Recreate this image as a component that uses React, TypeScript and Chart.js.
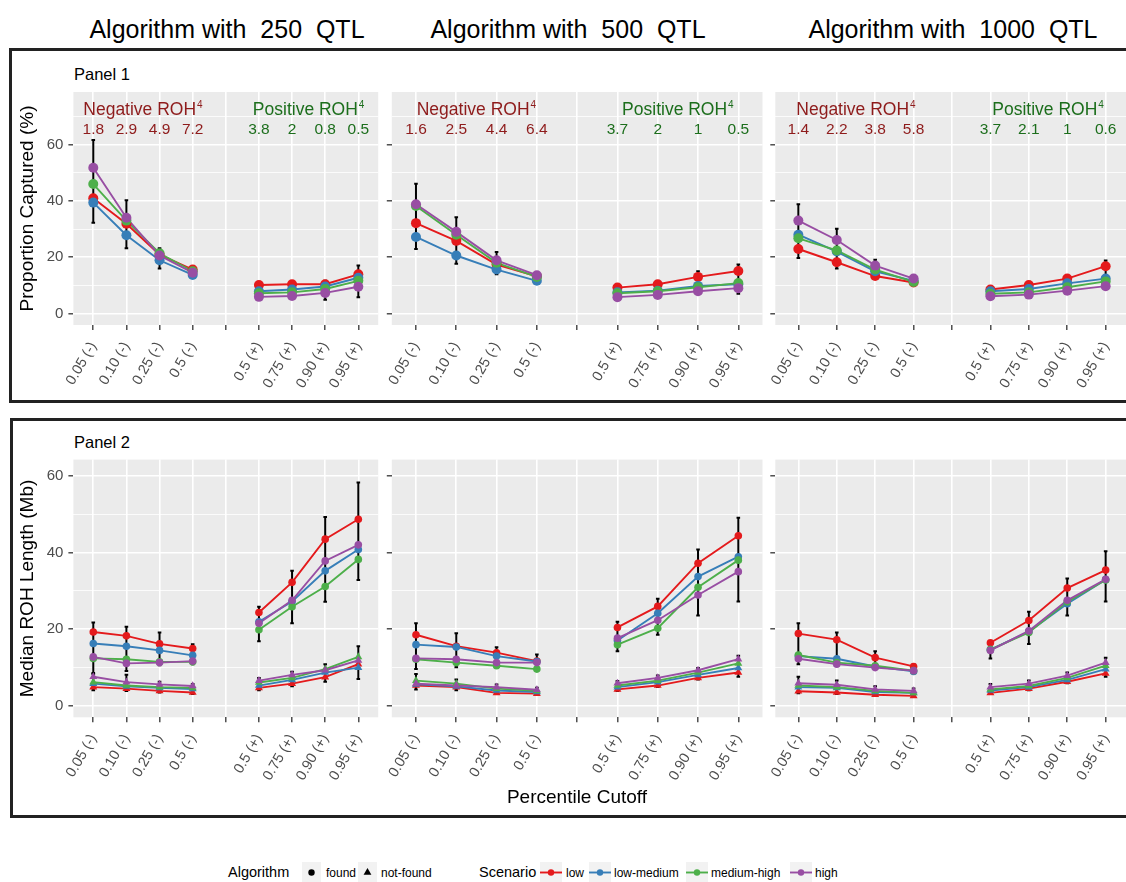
import React, { useEffect, useRef } from "react";
import { Chart, registerables } from "chart.js";
Chart.register(...registerables);

const FONT = "'Liberation Sans', Arial, Helvetica, sans-serif";

// ---------------- categories ----------------
const cutoffTickLabels = ["0.05 (-)", "0.10 (-)", "0.25 (-)", "0.5 (-)", "", "0.5 (+)", "0.75 (+)", "0.90 (+)", "0.95 (+)"];
const cutoffCategories = ["0.05 (-)", "0.10 (-)", "0.25 (-)", "0.5 (-)", "0.5 (+)", "0.75 (+)", "0.90 (+)", "0.95 (+)"];
const scenarios = ["low", "low-medium", "medium-high", "high"];
const scenarioColors = ["#E41A1C", "#377EB8", "#4DAF4A", "#984EA3"];
const algorithms = ["found", "not-found"];
const qtlCounts = ["250", "500", "1000"];
const yGridValues = [0, 10, 20, 30, 40, 50, 60, 70];

// ---------------- Panel 1: Proportion captured (%) ----------------
// rows: low, low-medium, medium-high, high
const capturedQ250 = [
  [40.9, 31.9, 20.9, 15.6, 10.1, 10.4, 10.4, 13.9],
  [39.4, 27.8, 18.9, 13.7, 7.9, 8.5, 9.6, 12.7],
  [46.0, 33.0, 21.4, 15.0, 7.2, 7.5, 8.7, 11.6],
  [51.8, 34.0, 20.6, 14.5, 5.9, 6.2, 7.3, 9.5],
];
const capturedQ500 = [
  [32.1, 25.8, 17.4, 13.2, 9.2, 10.4, 13.0, 15.1],
  [27.2, 20.6, 15.6, 11.6, 7.5, 8.1, 9.8, 10.4],
  [38.2, 28.0, 18.0, 13.0, 7.2, 7.9, 9.3, 10.8],
  [38.8, 29.0, 18.9, 13.6, 5.8, 6.6, 7.9, 9.0],
];
const capturedQ1000 = [
  [22.9, 18.2, 13.3, 11.0, 8.5, 10.1, 12.4, 16.8],
  [28.0, 22.0, 15.0, 11.6, 7.9, 8.7, 10.7, 12.4],
  [26.7, 22.4, 15.6, 11.2, 7.0, 7.5, 9.3, 11.4],
  [33.0, 26.1, 17.0, 12.4, 6.1, 6.7, 8.1, 9.7],
];
const capturedErrLoQ250 = [32.2, 23.2, 16.0, 13.0, 5.0, 5.4, 4.9, 5.8];
const capturedErrHiQ250 = [61.6, 40.2, 23.2, 16.5, 10.8, 11.2, 11.6, 17.0];
const capturedErrLoQ500 = [22.9, 17.7, 13.9, 11.0, 5.2, 6.0, 7.3, 7.0];
const capturedErrHiQ500 = [46.1, 34.2, 21.8, 14.3, 9.8, 11.0, 15.0, 17.4];
const capturedErrLoQ1000 = [19.7, 16.0, 12.5, 10.5, 5.6, 6.2, 7.6, 9.0];
const capturedErrHiQ1000 = [38.8, 30.1, 19.1, 13.0, 9.0, 10.6, 13.0, 18.8];

// ROH annotation values
const rohNegQ250 = [1.8, 2.9, 4.9, 7.2];
const rohPosQ250 = [3.8, 2, 0.8, 0.5];
const rohNegQ500 = [1.6, 2.5, 4.4, 6.4];
const rohPosQ500 = [3.7, 2, 1, 0.5];
const rohNegQ1000 = [1.4, 2.2, 3.8, 5.8];
const rohPosQ1000 = [3.7, 2.1, 1, 0.6];

// ---------------- Panel 2: Median ROH length (Mb) ----------------
const lengthFoundQ250 = [
  [19.2, 18.2, 16.1, 14.9, 24.3, 32.2, 43.5, 48.7],
  [16.2, 15.5, 14.4, 13.1, 21.9, 27.2, 35.2, 40.8],
  [12.3, 12.1, 11.4, 11.4, 19.8, 25.8, 31.1, 38.2],
  [12.7, 11.0, 11.2, 11.6, 21.5, 27.5, 37.8, 42.0],
];
const lengthNotFoundQ250 = [
  [4.8, 4.4, 3.8, 3.4, 4.6, 5.7, 7.4, 10.8],
  [5.7, 5.0, 4.6, 4.3, 5.2, 6.7, 8.6, 9.9],
  [6.1, 5.2, 4.8, 4.6, 6.0, 7.2, 9.5, 12.7],
  [7.5, 6.1, 5.5, 5.1, 6.5, 8.0, 9.2, 11.8],
];
const lengthFoundQ500 = [
  [18.5, 15.5, 13.8, 11.6, 20.4, 25.9, 37.2, 44.4],
  [15.9, 15.3, 12.9, 11.5, 17.0, 24.1, 33.7, 38.9],
  [12.1, 11.2, 10.4, 9.5, 15.9, 20.2, 30.9, 38.0],
  [12.3, 12.1, 11.2, 11.2, 17.6, 22.3, 28.9, 35.0],
];
const lengthNotFoundQ500 = [
  [5.2, 4.8, 3.3, 3.1, 4.2, 5.2, 7.2, 8.6],
  [5.5, 5.0, 3.9, 3.5, 4.8, 6.1, 8.0, 9.8],
  [6.5, 5.7, 4.4, 3.8, 5.2, 6.5, 8.6, 11.0],
  [5.7, 5.2, 4.8, 4.1, 5.8, 7.2, 9.2, 12.1],
];
const lengthFoundQ1000 = [
  [18.8, 17.2, 12.5, 10.2, 16.4, 22.2, 30.7, 35.4],
  [12.9, 12.2, 10.2, 8.9, 14.6, 19.3, 26.6, 32.9],
  [13.2, 11.2, 10.4, 9.1, 14.6, 19.1, 27.1, 32.8],
  [12.2, 10.8, 9.9, 9.1, 14.4, 19.5, 27.5, 33.0],
];
const lengthNotFoundQ1000 = [
  [3.7, 3.4, 2.8, 2.5, 3.3, 4.4, 6.2, 8.4],
  [4.8, 4.6, 3.5, 3.3, 3.9, 4.8, 6.7, 9.5],
  [5.2, 4.8, 3.8, 3.3, 4.2, 5.1, 7.2, 10.4],
  [5.8, 5.4, 4.2, 3.8, 4.8, 5.7, 7.8, 11.2],
];
const lengthFoundErrLoQ250 = [8.2, 9.0, 10.5, 10.8, 16.8, 21.5, 27.1, 32.8];
const lengthFoundErrHiQ250 = [21.7, 20.6, 19.1, 16.0, 25.8, 35.2, 49.3, 58.3];
const lengthNotFoundErrLoQ250 = [4.0, 3.8, 3.4, 3.0, 4.0, 5.0, 6.2, 6.9];
const lengthNotFoundErrHiQ250 = [8.5, 8.0, 6.2, 5.6, 7.2, 8.8, 10.8, 15.5];
const lengthFoundErrLoQ500 = [9.5, 10.0, 9.8, 9.0, 14.2, 18.5, 23.5, 27.2];
const lengthFoundErrHiQ500 = [21.5, 18.9, 15.2, 13.3, 21.9, 27.9, 40.8, 49.1];
const lengthNotFoundErrLoQ500 = [4.2, 4.0, 3.0, 2.8, 3.8, 4.8, 6.8, 7.5];
const lengthNotFoundErrHiQ500 = [8.2, 6.8, 5.5, 4.6, 6.4, 7.8, 9.8, 13.0];
const lengthFoundErrLoQ1000 = [10.8, 11.0, 9.5, 8.5, 12.3, 16.1, 23.5, 27.2];
const lengthFoundErrHiQ1000 = [21.5, 19.1, 14.2, 10.8, 16.5, 24.5, 33.2, 40.3];
const lengthNotFoundErrLoQ1000 = [3.2, 3.0, 2.5, 2.2, 3.0, 4.0, 5.8, 7.5];
const lengthNotFoundErrHiQ1000 = [7.5, 6.5, 5.0, 4.4, 5.6, 6.5, 8.6, 12.5];

// ---------------- layout geometry (page pixels) ----------------
const ROWS = [
  { top: 87.3, bottom: 325, yMin: -4.1, yMax: 78.7 },
  { top: 455, bottom: 717.3, yMin: -3.1, yMax: 64.3 },
];
const COLS = [
  { left: 73.4, right: 378.2 },
  { left: 391.8, right: 762.5 },
  { left: 775.3, right: 1128.7 },
];
const TITLE_CENTERS = [227, 568, 953];
const NEG_COLOR = "#8E1B1B";
const POS_COLOR = "#1C6E1C";
const ROH_LABEL_Y = 70.7;
const ROH_VALUE_Y = 63.7;

const slotOf = (i: number) => cutoffTickLabels.indexOf(cutoffCategories[i]) + 1;
const NEG_COUNT = 4; // first four categories are the (-) group

type SeriesGroup = { values: number[][]; shape: "circle" | "triangle"; radius: number };
type ErrRange = { lo: number[]; hi: number[] };
type FacetSpec = {
  row: number;
  col: number;
  groups: SeriesGroup[];
  errors: ErrRange[];
  roh?: { neg: number[]; pos: number[] };
  yTitle?: string;
};

function makeDecorPlugin(spec: FacetSpec) {
  return {
    id: "facetDecor",
    beforeDraw(chart: any) {
      const { ctx, chartArea: a } = chart;
      ctx.save();
      ctx.fillStyle = "#EBEBEB";
      ctx.fillRect(a.left, a.top, a.right - a.left, a.bottom - a.top);
      ctx.restore();
    },
    beforeDatasetsDraw(chart: any) {
      const { ctx } = chart;
      const xs = chart.scales.x;
      const ys = chart.scales.y;
      ctx.save();
      ctx.strokeStyle = "#000000";
      ctx.lineWidth = 2;
      const cap = 1.8;
      spec.errors.forEach((e) => {
        e.lo.forEach((lo, i) => {
          const px = xs.getPixelForValue(slotOf(i));
          const y1 = ys.getPixelForValue(lo);
          const y2 = ys.getPixelForValue(e.hi[i]);
          ctx.beginPath();
          ctx.moveTo(px, y1);
          ctx.lineTo(px, y2);
          ctx.moveTo(px - cap, y1);
          ctx.lineTo(px + cap, y1);
          ctx.moveTo(px - cap, y2);
          ctx.lineTo(px + cap, y2);
          ctx.stroke();
        });
      });
      ctx.restore();
    },
    afterDatasetsDraw(chart: any) {
      if (!spec.roh) return;
      const { ctx } = chart;
      const xs = chart.scales.x;
      const ys = chart.scales.y;
      const groups = [
        { title: "Negative ROH", color: NEG_COLOR, values: spec.roh.neg, first: 0 },
        { title: "Positive ROH", color: POS_COLOR, values: spec.roh.pos, first: 4 },
      ];
      ctx.save();
      groups.forEach((g) => {
        const xa = xs.getPixelForValue(slotOf(g.first));
        const xb = xs.getPixelForValue(slotOf(g.first + 3));
        const cx = (xa + xb) / 2;
        const by = ys.getPixelForValue(ROH_LABEL_Y);
        ctx.fillStyle = g.color;
        ctx.textBaseline = "alphabetic";
        ctx.textAlign = "left";
        ctx.font = `17.5px ${FONT}`;
        const w1 = ctx.measureText(g.title).width;
        ctx.font = `10px ${FONT}`;
        const w2 = ctx.measureText("4").width;
        const start = cx - (w1 + w2 + 1) / 2;
        ctx.font = `17.5px ${FONT}`;
        ctx.fillText(g.title, start, by);
        ctx.font = `10px ${FONT}`;
        ctx.fillText("4", start + w1 + 1, by - 6.5);
        ctx.font = `15.5px ${FONT}`;
        ctx.textAlign = "center";
        const vy = ys.getPixelForValue(ROH_VALUE_Y);
        g.values.forEach((v, k) => {
          ctx.fillText(String(v), xs.getPixelForValue(slotOf(g.first + k)), vy);
        });
      });
      ctx.restore();
    },
  };
}

function Facet({ spec }: { spec: FacetSpec }) {
  const ref = useRef<HTMLCanvasElement | null>(null);
  const R = ROWS[spec.row];
  const C = COLS[spec.col];
  const canvasLeft = spec.col === 0 ? 0 : Math.floor(C.left) - 22;
  const canvasTop = Math.floor(R.top);
  const yAxisW = C.left - canvasLeft;
  const padTop = R.top - canvasTop;
  const areaW = C.right - C.left;
  const areaH = R.bottom - R.top;
  const W = Math.ceil(yAxisW + areaW) + 10;
  const padRight = W - yAxisW - areaW;
  const H = Math.ceil(padTop + areaH + 76);
  const xAxisH = H - padTop - areaH;

  useEffect(() => {
    const canvas = ref.current;
    if (!canvas) return;
    const lineSets: any[] = [];
    const pointSets: any[] = [];
    spec.groups.forEach((g) => {
      g.values.forEach((vals, s) => {
        const data = vals.map((v, i) => ({ x: slotOf(i), y: v }));
        // the (-) and (+) groups are drawn as separate line pieces
        const lineData = [
          ...data.slice(0, NEG_COUNT),
          { x: (data[NEG_COUNT - 1].x + data[NEG_COUNT].x) / 2, y: null },
          ...data.slice(NEG_COUNT),
        ];
        lineSets.push({
          label: `${scenarios[s]} line`,
          data: lineData,
          borderColor: scenarioColors[s],
          borderWidth: 1.9,
          pointRadius: 0,
          showLine: true,
          spanGaps: false,
          fill: false,
          tension: 0,
          order: 100 - s,
        });
        pointSets.push({
          label: scenarios[s],
          data,
          showLine: false,
          pointStyle: g.shape,
          pointRadius: g.radius,
          pointBackgroundColor: scenarioColors[s],
          pointBorderWidth: 0,
          borderColor: scenarioColors[s],
          order: 10 - s,
        });
      });
    });
    const isMajor = (v: number) => Math.abs(v % 20) < 1e-9;
    const chart = new Chart(canvas, {
      type: "line",
      data: { datasets: [...lineSets, ...pointSets] },
      options: {
        animation: false,
        responsive: false,
        maintainAspectRatio: false,
        events: [],
        layout: { padding: { left: 0, top: padTop, right: padRight, bottom: 0 } },
        plugins: { legend: { display: false }, tooltip: { enabled: false }, title: { display: false } },
        scales: {
          x: {
            type: "linear",
            min: 0.4,
            max: 9.6,
            afterBuildTicks: (ax: any) => {
              ax.ticks = cutoffTickLabels.map((_, i) => ({ value: i + 1 }));
            },
            afterFit: (ax: any) => {
              ax.height = xAxisH;
              ax.paddingLeft = 0;
              ax.paddingRight = 0;
            },
            ticks: {
              autoSkip: false,
              minRotation: 60,
              maxRotation: 60,
              padding: 9,
              color: "#4D4D4D",
              font: { family: FONT, size: 14.5 },
              callback: (v: any) => cutoffTickLabels[Math.round(Number(v)) - 1] ?? "",
            },
            grid: { color: "#FFFFFF", lineWidth: 1.6, tickColor: "#333333", tickLength: 5, tickWidth: 1.3 },
            border: { display: false },
          },
          y: {
            type: "linear",
            min: R.yMin,
            max: R.yMax,
            afterBuildTicks: (ax: any) => {
              ax.ticks = yGridValues.filter((v) => v >= R.yMin && v <= R.yMax).map((v) => ({ value: v }));
            },
            afterFit: (ax: any) => {
              ax.width = yAxisW;
              ax.paddingTop = 0;
              ax.paddingBottom = 0;
            },
            ticks: {
              display: spec.col === 0,
              autoSkip: false,
              padding: 5,
              color: "#4D4D4D",
              font: { family: FONT, size: 15 },
              callback: (v: any) => (isMajor(Number(v)) ? String(v) : ""),
            },
            grid: {
              color: "#FFFFFF",
              lineWidth: (c: any) => (c.tick && isMajor(c.tick.value) ? 1.6 : 0.8),
              tickColor: (c: any) => (c.tick && isMajor(c.tick.value) ? "#333333" : "rgba(0,0,0,0)"),
              tickLength: 5,
              tickWidth: 1.3,
            },
            border: { display: false },
            title: spec.yTitle
              ? {
                  display: true,
                  text: spec.yTitle,
                  color: "#000000",
                  font: { family: FONT, size: 19 },
                  padding: { top: 16.4, bottom: 0 },
                }
              : { display: false },
          },
        },
      } as any,
      plugins: [makeDecorPlugin(spec) as any],
    });
    return () => chart.destroy();
  }, []);

  return (
    <canvas
      ref={ref}
      width={W}
      height={H}
      style={{ position: "absolute", left: canvasLeft, top: canvasTop, width: W, height: H }}
    />
  );
}

const capturedByQtl = [capturedQ250, capturedQ500, capturedQ1000];
const capturedErrLo = [capturedErrLoQ250, capturedErrLoQ500, capturedErrLoQ1000];
const capturedErrHi = [capturedErrHiQ250, capturedErrHiQ500, capturedErrHiQ1000];
const rohNeg = [rohNegQ250, rohNegQ500, rohNegQ1000];
const rohPos = [rohPosQ250, rohPosQ500, rohPosQ1000];
const lengthFound = [lengthFoundQ250, lengthFoundQ500, lengthFoundQ1000];
const lengthNotFound = [lengthNotFoundQ250, lengthNotFoundQ500, lengthNotFoundQ1000];
const lengthFoundErrLo = [lengthFoundErrLoQ250, lengthFoundErrLoQ500, lengthFoundErrLoQ1000];
const lengthFoundErrHi = [lengthFoundErrHiQ250, lengthFoundErrHiQ500, lengthFoundErrHiQ1000];
const lengthNotFoundErrLo = [lengthNotFoundErrLoQ250, lengthNotFoundErrLoQ500, lengthNotFoundErrLoQ1000];
const lengthNotFoundErrHi = [lengthNotFoundErrHiQ250, lengthNotFoundErrHiQ500, lengthNotFoundErrHiQ1000];

const facetSpecs: FacetSpec[] = [
  ...qtlCounts.map((_, c) => ({
    row: 0,
    col: c,
    groups: [{ values: capturedByQtl[c], shape: "circle" as const, radius: 5 }],
    errors: [{ lo: capturedErrLo[c], hi: capturedErrHi[c] }],
    roh: { neg: rohNeg[c], pos: rohPos[c] },
    yTitle: c === 0 ? "Proportion Captured (%)" : undefined,
  })),
  ...qtlCounts.map((_, c) => ({
    row: 1,
    col: c,
    groups: [
      { values: lengthNotFound[c], shape: "triangle" as const, radius: 4.6 },
      { values: lengthFound[c], shape: "circle" as const, radius: 3.8 },
    ],
    errors: [
      { lo: lengthFoundErrLo[c], hi: lengthFoundErrHi[c] },
      { lo: lengthNotFoundErrLo[c], hi: lengthNotFoundErrHi[c] },
    ],
    yTitle: c === 0 ? "Median ROH Length (Mb)" : undefined,
  })),
];

const abs = (o: React.CSSProperties): React.CSSProperties => ({ position: "absolute", ...o });

function LegendKey({ left, kind, color }: { left: number; kind: "dot" | "tri" | "line"; color: string }) {
  const w = kind === "line" ? 22 : 19;
  const h = 21;
  return (
    <svg style={abs({ left, top: 862, width: w, height: h })} width={w} height={h}>
      <rect x={0} y={0} width={w} height={h} fill="#F2F2F2" />
      {kind === "line" && <line x1={0} x2={w} y1={h / 2} y2={h / 2} stroke={color} strokeWidth={1.9} />}
      {kind !== "tri" && <circle cx={w / 2} cy={h / 2} r={3.2} fill={color} />}
      {kind === "tri" && (
        <polygon points={`${w / 2},${h / 2 - 4.5} ${w / 2 + 3.9},${h / 2 + 2.25} ${w / 2 - 3.9},${h / 2 + 2.25}`} fill={color} />
      )}
    </svg>
  );
}

export default function App() {
  const legendTitleStyle = (left: number): React.CSSProperties =>
    abs({ left, top: 862, height: 21, lineHeight: "21px", fontSize: 14.5, color: "#000", whiteSpace: "pre" });
  const legendLabelStyle = (left: number): React.CSSProperties =>
    abs({ left, top: 863, height: 21, lineHeight: "21px", fontSize: 12, color: "#000", whiteSpace: "pre" });
  const scenarioKeyLefts = [540, 589, 686, 790];
  const scenarioLabelLefts = [566, 614, 711, 815];
  return (
    <div style={abs({ left: 0, top: 0, width: 1126, height: 882, overflow: "hidden", background: "#FFFFFF", fontFamily: FONT })}>
      {qtlCounts.map((q, i) => (
        <div
          key={q}
          style={abs({
            left: TITLE_CENTERS[i] - 250,
            width: 500,
            top: 13.6,
            lineHeight: "30px",
            fontSize: 25,
            textAlign: "center",
            whiteSpace: "pre",
            color: "#000",
          })}
        >
          {`Algorithm with  ${q}  QTL`}
        </div>
      ))}
      <div style={abs({ left: 9, top: 48, width: 1140, height: 355, border: "3px solid #222", boxSizing: "border-box" })} />
      <div style={abs({ left: 9.5, top: 418, width: 1140, height: 400, border: "3px solid #222", boxSizing: "border-box" })} />
      <div style={abs({ left: 74, top: 63.5, lineHeight: "20px", fontSize: 16.5, color: "#000" })}>Panel 1</div>
      <div style={abs({ left: 74, top: 431.5, lineHeight: "20px", fontSize: 16.5, color: "#000" })}>Panel 2</div>
      {facetSpecs.map((s, i) => (
        <Facet key={i} spec={s} />
      ))}
      <div style={abs({ left: 577 - 150, width: 300, top: 786.7, lineHeight: "20px", fontSize: 19, textAlign: "center", color: "#000" })}>
        Percentile Cutoff
      </div>
      <div style={legendTitleStyle(228)}>Algorithm</div>
      <LegendKey left={302} kind="dot" color="#000" />
      <div style={legendLabelStyle(326)}>{algorithms[0]}</div>
      <LegendKey left={358} kind="tri" color="#000" />
      <div style={legendLabelStyle(381)}>{algorithms[1]}</div>
      <div style={legendTitleStyle(479)}>Scenario</div>
      {scenarios.map((s, i) => (
        <React.Fragment key={s}>
          <LegendKey left={scenarioKeyLefts[i]} kind="line" color={scenarioColors[i]} />
          <div style={legendLabelStyle(scenarioLabelLefts[i])}>{s}</div>
        </React.Fragment>
      ))}
    </div>
  );
}
